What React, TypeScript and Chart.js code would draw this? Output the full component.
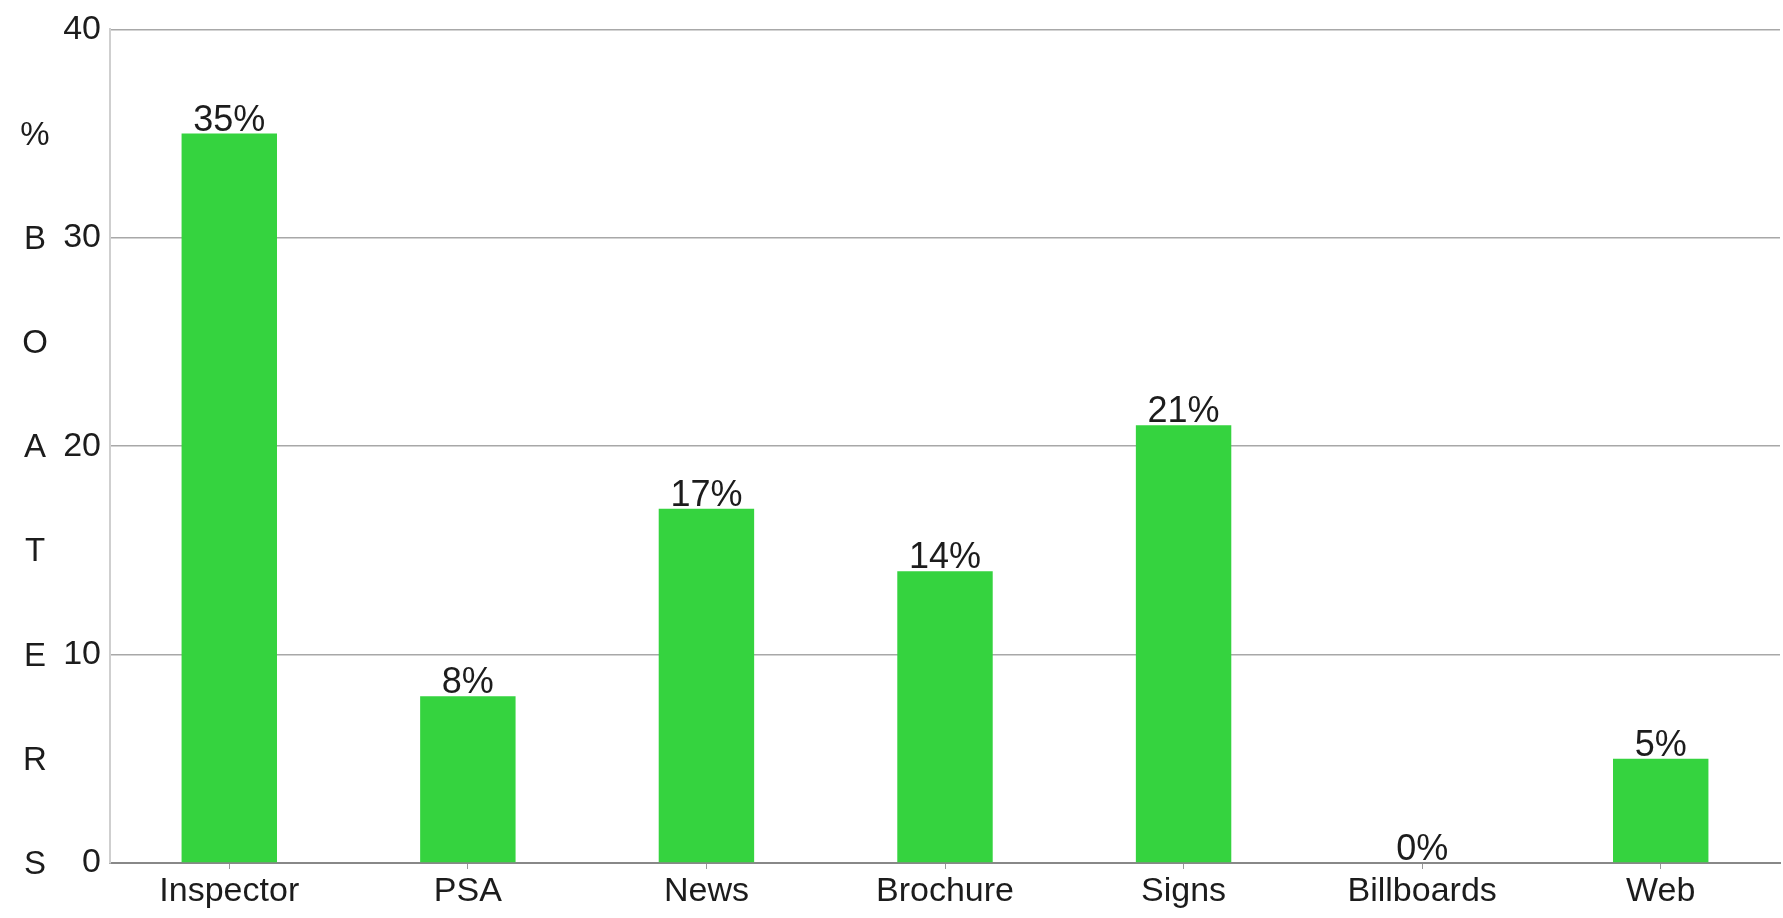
import React, { useEffect, useRef } from "react";
import { Chart, registerables } from "chart.js";

Chart.register(...registerables);

const categories = ["Inspector", "PSA", "News", "Brochure", "Signs", "Billboards", "Web"];
const values = [35, 8, 17, 14, 21, 0, 5];
const yTicks = [0, 10, 20, 30, 40];
const titleLetters = ["%", "B", "O", "A", "T", "E", "R", "S"];
const titleLetterValues = [35, 30, 25, 20, 15, 10, 5, 0];

const FONT = "'Liberation Sans', Arial, Helvetica, sans-serif";
const TEXT = "#1c1c1c";

export default function App() {
  const ref = useRef<HTMLCanvasElement | null>(null);

  useEffect(() => {
    document.body.style.margin = "0";
    const canvas = ref.current!;
    const labelPlugin = {
      id: "barLabels",
      afterDatasetsDraw(chart: any) {
        const ctx = chart.ctx;
        const meta = chart.getDatasetMeta(0);
        ctx.save();
        ctx.font = `36px ${FONT}`;
        ctx.fillStyle = TEXT;
        ctx.textAlign = "center";
        ctx.textBaseline = "alphabetic";
        meta.data.forEach((bar: any, i: number) => {
          ctx.fillText(`${values[i]}%`, bar.x, bar.y - 3);
        });
        ctx.restore();
      },
    };
    const titlePlugin = {
      id: "stackedTitle",
      afterDraw(chart: any) {
        const ctx = chart.ctx;
        const y = chart.scales.y;
        ctx.save();
        ctx.font = `33px ${FONT}`;
        ctx.fillStyle = TEXT;
        ctx.textAlign = "center";
        ctx.textBaseline = "middle";
        titleLetters.forEach((ch, i) => {
          ctx.fillText(ch, 35, y.getPixelForValue(titleLetterValues[i]) + 2);
        });
        ctx.restore();
      },
    };
    const chart = new Chart(canvas, {
      type: "bar",
      data: {
        labels: categories,
        datasets: [
          {
            data: values,
            backgroundColor: "#35d33f",
            borderWidth: 0,
            barPercentage: 0.4,
            categoryPercentage: 1,
          },
        ],
      },
      options: {
        responsive: false,
        animation: false,
        layout: { padding: { top: 12, right: 3, left: 0, bottom: 0 } },
        plugins: {
          legend: { display: false },
          tooltip: { enabled: false },
          title: { display: false },
        },
        scales: {
          x: {
            grid: {
              display: true,
              offset: false,
              drawOnChartArea: false,
              drawTicks: true,
              tickLength: 6,
              color: "#999",
              lineWidth: 1,
            },
            border: { display: true, color: "#888", width: 2 },
            ticks: {
              color: TEXT,
              font: { family: FONT, size: 34 },
              padding: 2,
              maxRotation: 0,
              autoSkip: false,
            },
            afterFit(scale: any) {
              scale.height = 55;
            },
          },
          y: {
            min: 0,
            max: 40,
            afterBuildTicks(scale: any) {
              scale.ticks = yTicks.map((v) => ({ value: v }));
            },
            grid: {
              display: true,
              drawTicks: false,
              color: "#a8a8a8",
              lineWidth: 1.5,
            },
            border: { display: true, color: "#cfcfcf", width: 2 },
            ticks: {
              color: TEXT,
              font: { family: FONT, size: 34 },
              padding: 9,
            },
            afterFit(scale: any) {
              scale.width = 110;
            },
          },
        },
      },
      plugins: [labelPlugin, titlePlugin],
    });
    return () => chart.destroy();
  }, []);

  return (
    <div style={{ width: 1783, height: 918 }}>
      <canvas ref={ref} width={1783} height={918} style={{ display: "block", width: 1783, height: 918 }} />
    </div>
  );
}
